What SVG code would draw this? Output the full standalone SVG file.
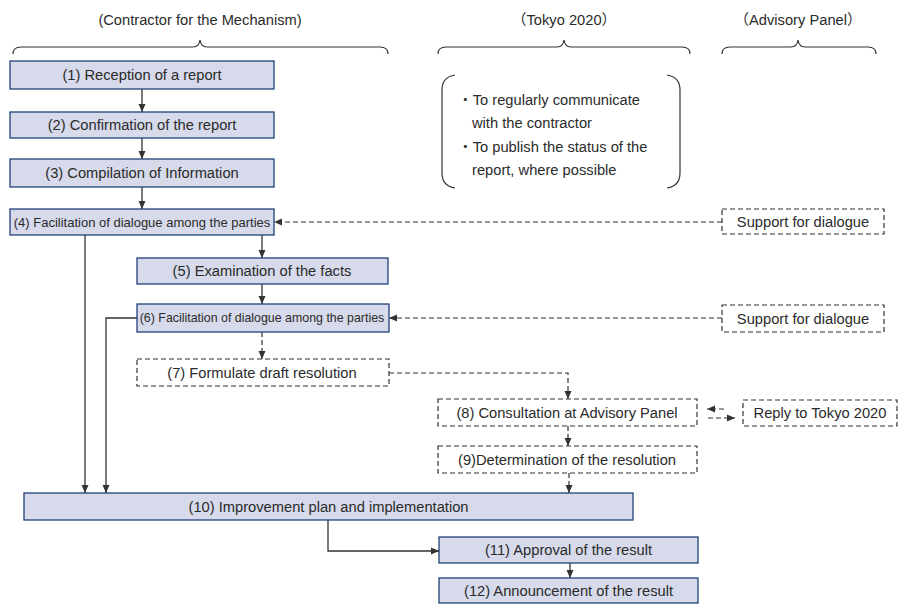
<svg xmlns="http://www.w3.org/2000/svg" width="899" height="604" viewBox="0 0 899 604">
<defs>
<style>
text{font-family:"Liberation Sans","Noto Sans CJK JP",sans-serif;font-size:14.7px;fill:#2b2b2b;}
.c{text-anchor:middle;}
.box{fill:#D6DAEA;stroke:#22407A;stroke-width:1.3;}
.dbox{fill:#fff;stroke:#333;stroke-width:1.2;stroke-dasharray:5,3;}
.ln{fill:none;stroke:#333;stroke-width:1.3;}
.dl{fill:none;stroke:#333;stroke-width:1.2;stroke-dasharray:5,3;}
.br{fill:none;stroke:#333;stroke-width:1.2;}
</style>
<marker id="ah" viewBox="0 0 8 8" refX="8" refY="4" markerWidth="8" markerHeight="8" markerUnits="userSpaceOnUse" orient="auto">
<path d="M0,0.5 L8,4 L0,7.5 z" fill="#333"/>
</marker>
</defs>
<rect width="899" height="604" fill="#fff"/>

<g id="headers">
<text class="c" x="200" y="25">(Contractor for the Mechanism)</text>
<text class="c" x="564" y="25">（Tokyo 2020）</text>
<text class="c" x="798" y="25">（Advisory Panel）</text>
<path class="br" d="M13,54 Q13,47 21,47 L193,47 Q199,47 200,40 Q201,47 207,47 L380,47 Q388,47 388,54"/>
<path class="br" d="M438,54 Q438,47 446,47 L557,47 Q563,47 564,40 Q565,47 571,47 L682,47 Q690,47 690,54"/>
<path class="br" d="M722,54 Q722,47 730,47 L791,47 Q797,47 798,40 Q799,47 805,47 L868,47 Q876,47 876,54"/>
</g>

<g id="tokyo-note">
<path class="br" d="M455,75 Q442,77 442,90 V173 Q442,186 455,188"/>
<path class="br" d="M667,75 Q680,77 680,90 V173 Q680,186 667,188"/>
<text x="458" y="105">・To regularly communicate</text>
<text x="472" y="128">with the contractor</text>
<text x="458" y="152">・To publish the status of the</text>
<text x="472" y="175">report, where possible</text>
</g>

<g id="connectors">
<path class="ln" d="M142,89 V112" marker-end="url(#ah)"/>
<path class="ln" d="M142,138 V159" marker-end="url(#ah)"/>
<path class="ln" d="M142,187 V209" marker-end="url(#ah)"/>
<path class="ln" d="M262,235 V258" marker-end="url(#ah)"/>
<path class="ln" d="M262,284 V304" marker-end="url(#ah)"/>
<path class="dl" d="M262,332 V359" marker-end="url(#ah)"/>
<path class="ln" d="M85,235 V493" marker-end="url(#ah)"/>
<path class="ln" d="M137,318 H106 V493" marker-end="url(#ah)"/>
<path class="dl" d="M389,373 H568 V399" marker-end="url(#ah)"/>
<path class="dl" d="M568,426 V446" marker-end="url(#ah)"/>
<path class="dl" d="M569,473 V493" marker-end="url(#ah)"/>
<path class="ln" d="M328,520 V551 H439" marker-end="url(#ah)"/>
<path class="ln" d="M570,563 V578" marker-end="url(#ah)"/>
<path class="dl" d="M722,222 H274" marker-end="url(#ah)"/>
<path class="dl" d="M722,318 H389" marker-end="url(#ah)"/>
<path class="dl" d="M724,409 H707" marker-end="url(#ah)"/>
<path class="dl" d="M708,418 H735" marker-end="url(#ah)"/>
</g>

<g id="n1"><rect class="box" x="10" y="61" width="264" height="28"/><text class="c" x="142" y="80">(1) Reception of a report</text></g>
<g id="n2"><rect class="box" x="10" y="112" width="264" height="26"/><text class="c" x="142" y="130">(2) Confirmation of the report</text></g>
<g id="n3"><rect class="box" x="10" y="159" width="264" height="28"/><text class="c" x="142" y="178">(3) Compilation of Information</text></g>
<g id="n4"><rect class="box" x="10" y="209" width="264" height="26"/><text class="c" x="142" y="227" style="font-size:13px">(4) Facilitation of dialogue among the parties</text></g>
<g id="n5"><rect class="box" x="137" y="258" width="251" height="26"/><text class="c" x="262" y="276">(5) Examination of the facts</text></g>
<g id="n6"><rect class="box" x="137" y="304" width="252" height="28"/><text class="c" x="262" y="322" style="font-size:12.4px">(6) Facilitation of dialogue among the parties</text></g>
<g id="n7"><rect class="dbox" x="137" y="359" width="252" height="27"/><text class="c" x="262" y="378">(7) Formulate draft resolution</text></g>
<g id="n8"><rect class="dbox" x="438" y="399" width="259" height="27"/><text class="c" x="567" y="418">(8) Consultation at Advisory Panel</text></g>
<g id="n9"><rect class="dbox" x="438" y="446" width="259" height="27"/><text class="c" x="567" y="465">(9)Determination of the resolution</text></g>
<g id="n10"><rect class="box" x="24" y="493" width="609" height="27"/><text class="c" x="328.5" y="512">(10) Improvement plan and implementation</text></g>
<g id="n11"><rect class="box" x="439" y="537" width="259" height="26"/><text class="c" x="568.5" y="555">(11) Approval of the result</text></g>
<g id="n12"><rect class="box" x="439" y="578" width="259" height="25"/><text class="c" x="568.5" y="595.5">(12) Announcement of the result</text></g>
<g id="s1"><rect class="dbox" x="722" y="209" width="162" height="25"/><text class="c" x="803" y="226.5">Support for dialogue</text></g>
<g id="s2"><rect class="dbox" x="722" y="305" width="162" height="27"/><text class="c" x="803" y="323.5">Support for dialogue</text></g>
<g id="reply"><rect class="dbox" x="743" y="400" width="154" height="26"/><text class="c" x="820" y="418">Reply to Tokyo 2020</text></g>
</svg>
